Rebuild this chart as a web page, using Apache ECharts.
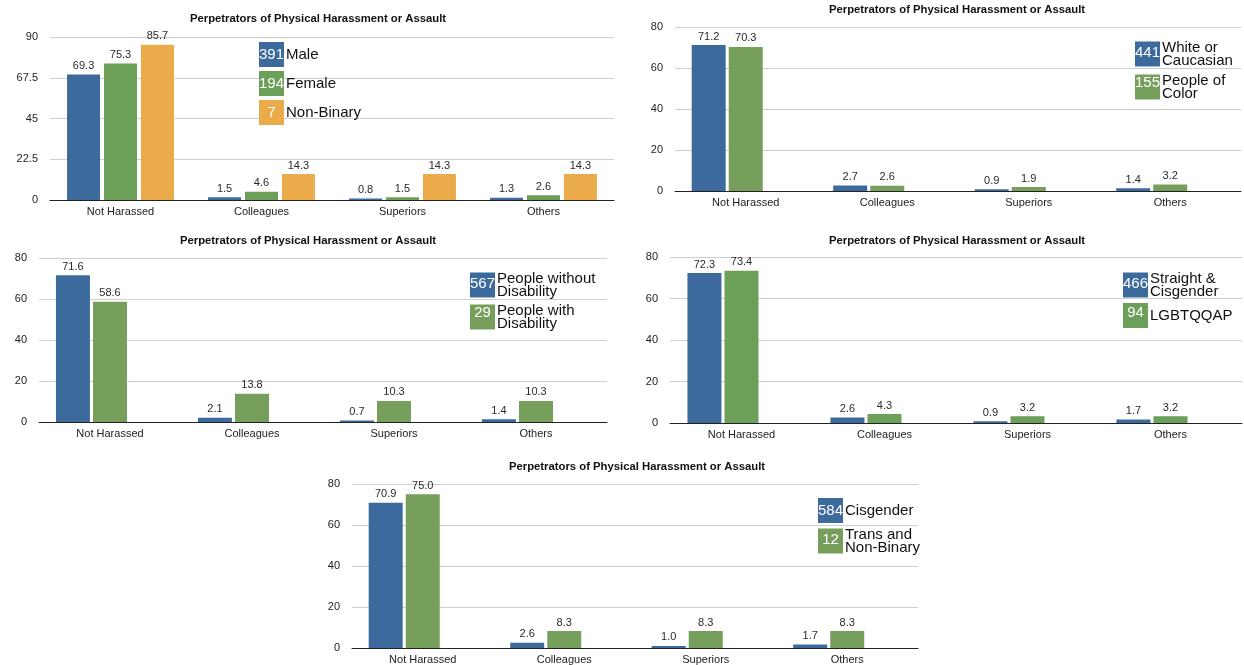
<!DOCTYPE html>
<html>
<head>
<meta charset="utf-8">
<script src="https://cdn.jsdelivr.net/npm/echarts@6/dist/echarts.min.js"></script>
<style>
html,body{margin:0;padding:0;background:#fff;}
#c{width:1244px;height:665px;}
</style>
</head>
<body>
<div id="c"></div>
<script>
// ---- data ----
var categories = ['Not Harassed', 'Colleagues', 'Superiors', 'Others'];
var chartTitle = 'Perpetrators of Physical Harassment or Assault';

// Chart 1: gender
var genderNames = ['Male', 'Female', 'Non-Binary'];
var genderCounts = [391, 194, 7];
var maleValues = [69.3, 1.5, 0.8, 1.3];
var femaleValues = [75.3, 4.6, 1.5, 2.6];
var nonBinaryValues = [85.7, 14.3, 14.3, 14.3];

// Chart 2: race
var raceNames = ['White or\nCaucasian', 'People of\nColor'];
var raceCounts = [441, 155];
var whiteValues = [71.2, 2.7, 0.9, 1.4];
var pocValues = [70.3, 2.6, 1.9, 3.2];

// Chart 3: disability
var disabilityNames = ['People without\nDisability', 'People with\nDisability'];
var disabilityCounts = [567, 29];
var noDisabilityValues = [71.6, 2.1, 0.7, 1.4];
var disabilityValues = [58.6, 13.8, 10.3, 10.3];

// Chart 4: sexuality
var sexualityNames = ['Straight &\nCisgender', 'LGBTQQAP'];
var sexualityCounts = [466, 94];
var straightValues = [72.3, 2.6, 0.9, 1.7];
var lgbtValues = [73.4, 4.3, 3.2, 3.2];

// Chart 5: gender identity
var identityNames = ['Cisgender', 'Trans and\nNon-Binary'];
var identityCounts = [584, 12];
var cisValues = [70.9, 2.6, 1.0, 1.7];
var transValues = [75.0, 8.3, 8.3, 8.3];

var yTicks1 = {max: 90, interval: 22.5};
var yTicks = {max: 80, interval: 20};

// ---- styles / layout ----
var BLUE = '#3d6a9c', GREEN = '#6c9f57', GREEN2 = '#779f5c', ORANGE = '#ecab4b';
var FONT = 'Liberation Sans, Arial, Helvetica, sans-serif';

var panels = [
  {grid: {left: 50, top: 37, width: 564, height: 163}, title: [318, 13], ticks: yTicks1,
   names: genderNames, counts: genderCounts, values: [maleValues, femaleValues, nonBinaryValues],
   colors: [BLUE, GREEN, ORANGE], legend: [259, 42], gap: 4, barWidth: 33, barGap: '12%', phantom: false},
  {grid: {left: 675, top: 27, width: 566, height: 164}, title: [957, 4], ticks: yTicks,
   names: raceNames, counts: raceCounts, values: [whiteValues, pocValues],
   colors: [BLUE, GREEN2], legend: [1135, 40], gap: 5, barWidth: 34, barGap: '9%', phantom: true},
  {grid: {left: 39, top: 258, width: 568, height: 164}, title: [308, 235], ticks: yTicks,
   names: disabilityNames, counts: disabilityCounts, values: [noDisabilityValues, disabilityValues],
   colors: [BLUE, GREEN2], legend: [470, 271], gap: 4, barWidth: 34, barGap: '9%', phantom: true},
  {grid: {left: 670, top: 257, width: 572, height: 166}, title: [957, 235], ticks: yTicks,
   names: sexualityNames, counts: sexualityCounts, values: [straightValues, lgbtValues],
   colors: [BLUE, GREEN], legend: [1123, 271], gap: 4, barWidth: 34, barGap: '9%', phantom: true},
  {grid: {left: 352, top: 484, width: 566, height: 164}, title: [637, 461], ticks: yTicks,
   names: identityNames, counts: identityCounts, values: [cisValues, transValues],
   colors: [BLUE, GREEN2], legend: [818, 498], gap: 4, barWidth: 34, barGap: '9%', phantom: true}
];

var option = {
  animation: false,
  backgroundColor: '#fff',
  textStyle: {fontFamily: FONT},
  title: [], grid: [], xAxis: [], yAxis: [], legend: [], series: [], graphic: []
};

panels.forEach(function (p, i) {
  option.title.push({
    text: chartTitle, left: p.title[0], top: p.title[1], textAlign: 'center', padding: 0,
    textStyle: {fontSize: 11.3, fontWeight: 'bold', color: '#111', fontFamily: FONT}
  });
  option.grid.push(p.grid);
  option.xAxis.push({
    type: 'category', gridIndex: i, data: categories,
    axisLine: {lineStyle: {color: '#222', width: 1}},
    axisTick: {show: false},
    axisLabel: {color: '#222', fontSize: 11, margin: 6, fontFamily: FONT}
  });
  option.yAxis.push({
    type: 'value', gridIndex: i, min: 0, max: p.ticks.max, interval: p.ticks.interval,
    axisLine: {show: false}, axisTick: {show: false},
    axisLabel: {color: '#222', fontSize: 11, margin: 12, fontFamily: FONT},
    splitLine: {lineStyle: {color: '#cfcfcf', width: 1}}
  });
  var legendData = [];
  p.values.forEach(function (vals, k) {
    legendData.push(p.names[k]);
    option.series.push({
      type: 'bar', name: p.names[k], xAxisIndex: i, yAxisIndex: i, data: vals,
      barWidth: p.barWidth, barGap: p.barGap,
      itemStyle: {color: p.colors[k]},
      label: {show: true, position: 'top', distance: 3, color: '#2a2a2a', fontSize: 11, fontFamily: FONT,
        formatter: function (d) { return d.value.toFixed(1); }}
    });
  });
  if (p.phantom) {
    option.series.push({
      type: 'bar', name: 'slot' + i, xAxisIndex: i, yAxisIndex: i,
      data: categories.map(function () { return '-'; }),
      barWidth: p.barWidth, barGap: p.barGap, itemStyle: {color: 'transparent'}
    });
  }
  option.legend.push({
    data: legendData, orient: 'vertical', left: p.legend[0], top: p.legend[1],
    itemWidth: 25, itemHeight: 25, itemGap: p.gap, icon: 'rect', padding: 0,
    selectedMode: false,
    textStyle: {color: '#111', fontSize: 15, lineHeight: 13, fontFamily: FONT, padding: [0, 0, 0, -3]}
  });
  p.counts.forEach(function (c, k) {
    option.graphic.push({
      type: 'text', z: 100,
      x: p.legend[0] + 12.5, y: p.legend[1] + k * (25 + p.gap) + 13,
      style: {text: String(c), fill: '#fff', font: '15px ' + FONT, align: 'center', verticalAlign: 'middle'}
    });
  });
});

var chart = echarts.init(document.getElementById('c'));
chart.setOption(option);
</script>
</body>
</html>
